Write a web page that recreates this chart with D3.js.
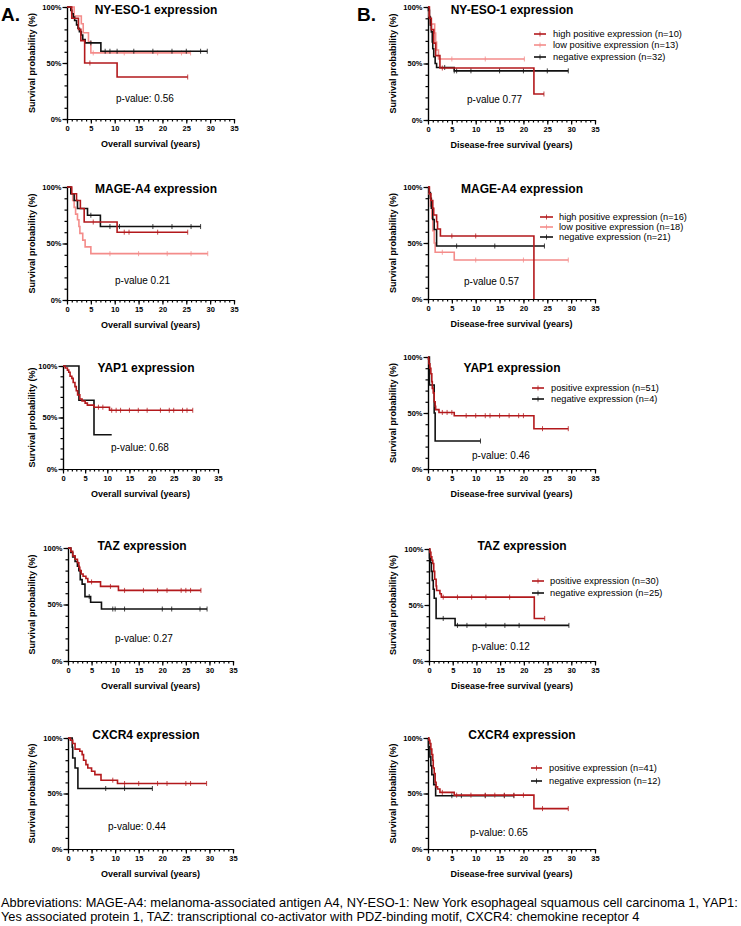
<!DOCTYPE html>
<html><head><meta charset="utf-8">
<script src="https://cdn.jsdelivr.net/npm/d3@7"></script>
<style>body{margin:0;background:#fff}svg{display:block}text{font-family:"Liberation Sans",Arial,sans-serif}</style>
</head><body><svg id="c" width="741" height="926"></svg>
<script>
// ---------- text ----------
const titles = ["NY-ESO-1 expression","MAGE-A4 expression","YAP1 expression","TAZ expression","CXCR4 expression"];
const pvalOS = ["p-value: 0.56","p-value 0.21","p-value: 0.68","p-value: 0.27","p-value: 0.44"];
const pvalDFS = ["p-value 0.77","p-value 0.57","p-value: 0.46","p-value: 0.12","p-value: 0.65"];
const legNy = ["high positive expression (n=10)","low positive expression (n=13)","negative expression (n=32)"];
const legMa = ["high positive expression (n=16)","low positive expression (n=18)","negative expression (n=21)"];
const legYap = ["positive expression (n=51)","negative expression (n=4)"];
const legTaz = ["positive expression (n=30)","negative expression (n=25)"];
const legCx = ["positive expression (n=41)","negative expression (n=12)"];
const xTicks = [0,5,10,15,20,25,30,35];
const yTicks = [0,50,100];
const yTickLabels = ["0%","50%","100%"];
const yTitle = "Survival probability (%)";
const xTitleOS = "Overall survival (years)";
const xTitleDFS = "Disease-free survival (years)";
const footnote = ["Abbreviations: MAGE-A4: melanoma-associated antigen A4, NY-ESO-1: New York esophageal squamous cell carcinoma 1, YAP1:",
  "Yes associated protein 1, TAZ: transcriptional co-activator with PDZ-binding motif, CXCR4: chemokine receptor 4"];

// ---------- Kaplan-Meier steps [time, survival %] and censor times ----------
// Overall survival
const osNyHigh = [[0,100],[1,90],[2.4,80],[2.9,70],[3.7,50],[10.5,37.5],[25.3,37.5]];
const osNyHighC = [4.8,25.3];
const osNyLow = [[0,100],[1.5,92],[3,85],[3.4,77],[4.5,69],[5,59],[25.9,59]];
const osNyLowC = [5.5,12,19,24,25.9];
const osNyNeg = [[0,100],[0.8,97],[1,94],[1.3,91],[1.6,88],[2,84],[2.3,81],[2.6,78],[3,75],[3.3,71],[3.8,68],[7.1,60.5],[29.4,60.5]];
const osNyNegC = [5,8,9,10.5,14,18,22,25,28,29.4];

const osMaHigh = [[0,100],[1,94],[2,88],[2.8,81],[3.6,69],[10.5,60],[25.3,60]];
const osMaHighC = [5.5,12,13,19,25.3];
const osMaLow = [[0,100],[0.8,94],[1.2,88],[1.5,82],[1.8,76],[2.2,71],[2.5,65],[2.7,59],[3.3,53],[3.8,47],[5,41],[29.5,41]];
const osMaLowC = [9,15,21,26,29.5];
const osMaNeg = [[0,100],[0.8,94],[1.5,88],[2.2,81],[4.3,75],[7,65],[28,65]];
const osMaNegC = [5,9,11,18,22,26,28];

const osYapPos = [[0,100],[0.5,98],[1,96],[1.3,94],[1.6,90],[2,88],[2.3,84],[2.7,80],[3,76],[3.3,72],[3.8,68],[4.3,66],[5,64],[5.5,62],[7,60],[10.5,57],[29.3,57]];
const osYapPosC = [8,9,11,12,13,15,17,19,22,24,25,27,28,29.3];
const osYapNeg = [[0,100],[3.6,66.7],[7,33.3],[11,33.3]];
const osYapNegC = [];

const osTazPos = [[0,100],[0.6,97],[1,93],[1.5,90],[2,87],[2.3,83],[2.5,80],[2.8,77],[3.2,75],[3.8,73],[4.2,70],[6.9,66],[10.7,62.5],[28.2,62.5]];
const osTazPosC = [5,9,12,16,19,21,24,25,26,28.2];
const osTazNeg = [[0,100],[0.6,96],[1,92],[1.5,88],[2,84],[2.3,80],[2.6,72],[3,68],[3.6,57],[4.8,52],[7.1,46],[29.5,46]];
const osTazNegC = [4.5,9.5,10,12,20,22,28,29.5];

const osCxPos = [[0,100],[0.5,98],[1,95],[1.5,90],[2.5,88],[3,85],[3.3,80],[3.8,76],[4.2,73],[5,70],[5.7,67],[7,62],[10.5,59],[29.4,59]];
const osCxPosC = [9.5,12,15,19,21,25,26,29.4];
const osCxNeg = [[0,100],[0.9,91.7],[1,82],[1.5,73],[2.1,54.5],[17.9,54.5]];
const osCxNegC = [8,12,17.9];

// Disease-free survival
const dfsNyHigh = [[0,100],[0.3,90],[0.7,80],[1.2,68],[1.6,57],[2.5,46],[22.2,23],[24.3,23]];
const dfsNyHighC = [3,24.3];
const dfsNyLow = [[0,100],[0.2,92],[0.4,85],[1.4,77],[1.6,69],[1.8,62],[2.2,54],[20.2,54]];
const dfsNyLowC = [5,12,20.2];
const dfsNyNeg = [[0,100],[0.1,97],[0.3,91],[0.5,84],[0.7,78],[0.9,69],[1,63],[1.2,56],[1.5,50],[1.8,46.5],[5.5,43.5],[29.4,43.5]];
const dfsNyNegC = [3.5,5.5,6,9,15,20,25,29.4];

const dfsMaHigh = [[0,100],[0.3,94],[0.6,88],[1,81],[1.2,75],[1.8,69],[2,62.5],[2.6,56.3],[22.2,0]];
const dfsMaHighC = [5,10];
const dfsMaLow = [[0,100],[0.2,94],[0.5,83],[0.8,72],[1,61],[1.3,50],[1.5,41.7],[5.5,34.8],[29.4,34.8]];
const dfsMaLowC = [3,10,20,29.4];
const dfsMaNeg = [[0,100],[0.2,95],[0.5,90],[0.7,81],[1,71],[1.3,62],[1.8,47.3],[24.4,47.3]];
const dfsMaNegC = [6,14,24.4];

const dfsYapPos = [[0,100],[0.1,98],[0.2,94],[0.4,90],[0.6,85],[0.8,78],[0.9,72],[1.1,68],[1.3,60],[1.5,56],[1.6,53],[2.3,50.5],[5.5,47.6],[22.2,36],[29.4,36]];
const dfsYapPosC = [3,4,5,8,10,12,13,15,17,19,20,24,29.4];
const dfsYapNeg = [[0,100],[0.3,75],[1.3,50],[1.5,25],[11,25]];
const dfsYapNegC = [11];

const dfsTazPos = [[0,100],[0.2,97],[0.4,93],[0.6,90],[0.8,87],[1,80],[1.2,73],[1.5,67],[1.6,63],[2.3,60],[2.6,57],[22.2,38],[24.4,38]];
const dfsTazPosC = [3,6,9,12,17,24.4];
const dfsTazNeg = [[0,100],[0.1,92],[0.3,88],[0.5,80],[0.7,72],[0.9,64],[1.1,56],[1.5,38],[5.5,31.8],[29.5,31.8]];
const dfsTazNegC = [3,6,8,12,16,19,29.5];

const dfsCxPos = [[0,100],[0.2,98],[0.4,95],[0.6,90],[0.8,85],[1,80],[1.1,73],[1.3,68],[1.5,60],[1.7,56],[2,54],[2.5,51],[5.5,48.5],[22.2,36.4],[29.4,36.4]];
const dfsCxPosC = [3,6,9,12,14,16,18,20,24,29.4];
const dfsCxNeg = [[0,100],[0.1,92],[0.4,83],[0.6,75],[0.8,67],[1.2,58],[1.6,48],[18,48]];
const dfsCxNegC = [5,7,12,16,18];

// ---------- styling ----------
const RED = "#b3191c", PINK = "#f48c8a", BLACK = "#111111";
const svg = d3.select("#c");
svg.append("rect").attr("width",741).attr("height",926).attr("fill","#fff");

const panels = [
 {x0:67,x1:234,yT:7,yB:119,ylx:32,ti:0,tx:156,ty:10,p:pvalOS[0],px:116,py:98,xt:xTitleOS,
  curves:[[osNyLow,osNyLowC,PINK],[osNyNeg,osNyNegC,BLACK],[osNyHigh,osNyHighC,RED]]},
 {x0:67,x1:234,yT:187,yB:300,ylx:32,ti:1,tx:156,ty:189,p:pvalOS[1],px:115,py:280,xt:xTitleOS,
  curves:[[osMaLow,osMaLowC,PINK],[osMaNeg,osMaNegC,BLACK],[osMaHigh,osMaHighC,RED]]},
 {x0:63,x1:218,yT:366,yB:469,ylx:32,ti:2,tx:146,ty:368,p:pvalOS[2],px:111,py:447,xt:xTitleOS,
  curves:[[osYapNeg,osYapNegC,BLACK],[osYapPos,osYapPosC,RED]]},
 {x0:68,x1:233,yT:548,yB:661,ylx:32,ti:3,tx:142,ty:546,p:pvalOS[3],px:115,py:638,xt:xTitleOS,
  curves:[[osTazNeg,osTazNegC,BLACK],[osTazPos,osTazPosC,RED]]},
 {x0:68,x1:233,yT:738,yB:849,ylx:32,ti:4,tx:146,ty:735,p:pvalOS[4],px:108,py:826,xt:xTitleOS,
  curves:[[osCxNeg,osCxNegC,BLACK],[osCxPos,osCxPosC,RED]]},
 {x0:428,x1:595,yT:7,yB:120,ylx:393,ti:0,tx:512,ty:10,p:pvalDFS[0],px:467,py:99,xt:xTitleDFS,
  curves:[[dfsNyLow,dfsNyLowC,PINK],[dfsNyNeg,dfsNyNegC,BLACK],[dfsNyHigh,dfsNyHighC,RED]],
  leg:{items:legNy,cols:[RED,PINK,BLACK],l0:534,l1:546,tx:553,rows:[34,45,57],w:129}},
 {x0:428,x1:595,yT:187,yB:299,ylx:393,ti:1,tx:522,ty:189,p:pvalDFS[1],px:464,py:281,xt:xTitleDFS,
  curves:[[dfsMaLow,dfsMaLowC,PINK],[dfsMaNeg,dfsMaNegC,BLACK],[dfsMaHigh,dfsMaHighC,RED]],
  leg:{items:legMa,cols:[RED,PINK,BLACK],l0:540,l1:553,tx:559,rows:[217,227,237],w:128}},
 {x0:428,x1:595,yT:357,yB:469,ylx:393,ti:2,tx:512,ty:368,p:pvalDFS[2],px:472,py:455,xt:xTitleDFS,
  curves:[[dfsYapNeg,dfsYapNegC,BLACK],[dfsYapPos,dfsYapPosC,RED]],
  leg:{items:legYap,cols:[RED,BLACK],l0:532,l1:544,tx:551,rows:[388,399],w:108}},
 {x0:429,x1:595,yT:549,yB:661,ylx:393,ti:3,tx:522,ty:546,p:pvalDFS[3],px:472,py:646,xt:xTitleDFS,
  curves:[[dfsTazNeg,dfsTazNegC,BLACK],[dfsTazPos,dfsTazPosC,RED]],
  leg:{items:legTaz,cols:[RED,BLACK],l0:532,l1:544,tx:550,rows:[581,593],w:109}},
 {x0:428,x1:595,yT:738,yB:849,ylx:393,ti:4,tx:522,ty:735,p:pvalDFS[4],px:470,py:832,xt:xTitleDFS,
  curves:[[dfsCxNeg,dfsCxNegC,BLACK],[dfsCxPos,dfsCxPosC,RED]],
  leg:{items:legCx,cols:[RED,BLACK],l0:531,l1:542,tx:549,rows:[768,781],w:108}}
];

function survAt(steps,t){let s=100;for(const d of steps){if(d[0]<=t)s=d[1];}return s;}

panels.forEach(P=>{
  const x=d3.scaleLinear().domain([0,35]).range([P.x0,P.x1]);
  const y=d3.scaleLinear().domain([0,100]).range([P.yB,P.yT]);
  const g=svg.append("g");
  const yMin=g.append("g").attr("transform",`translate(${P.x0},0)`)
    .call(d3.axisLeft(y).tickValues(d3.range(0,101,10)).tickSize(2.5).tickFormat("").tickSizeOuter(0));
  const xMin=g.append("g").attr("transform",`translate(0,${P.yB})`)
    .call(d3.axisBottom(x).tickValues(d3.range(0,36,1)).tickSize(2.5).tickFormat("").tickSizeOuter(0));
  const yAx=g.append("g").attr("transform",`translate(${P.x0},0)`)
    .call(d3.axisLeft(y).tickValues(yTicks).tickSize(4.5).tickSizeOuter(0).tickFormat((d,i)=>yTickLabels[i]));
  const xAx=g.append("g").attr("transform",`translate(0,${P.yB})`)
    .call(d3.axisBottom(x).tickValues(xTicks).tickSize(4.5).tickSizeOuter(0));
  [yMin,xMin,yAx,xAx].forEach(a=>{
    a.selectAll("path,line").attr("stroke","#000").attr("stroke-width",1.2);
    a.selectAll("text").attr("font-family","Liberation Sans, Arial").attr("font-weight","bold")
     .attr("font-size",7.5).attr("fill","#000");
  });
  yAx.selectAll("text").attr("x",-5.5);
  xAx.selectAll("text").attr("y",7);
  g.append("text").attr("transform",`translate(${P.ylx},${(P.yT+P.yB)/2}) rotate(-90)`)
    .attr("text-anchor","middle").attr("dominant-baseline","central")
    .attr("font-weight","bold").attr("font-size",9).text(yTitle);
  g.append("text").attr("x",(P.x0+P.x1)/2).attr("y",P.yB+28)
    .attr("text-anchor","middle").attr("font-weight","bold").attr("font-size",9).text(P.xt);
  g.append("text").attr("x",P.tx).attr("y",P.ty).attr("text-anchor","middle").attr("dominant-baseline","central")
    .attr("font-weight","bold").attr("font-size",12).text(titles[P.ti]);
  g.append("text").attr("x",P.px).attr("y",P.py).attr("dominant-baseline","central")
    .attr("font-size",10).text(P.p);
  const line=d3.line().x(d=>x(d[0])).y(d=>y(d[1])).curve(d3.curveStepAfter);
  P.curves.forEach(([steps,cens,col])=>{
    g.append("path").attr("d",line(steps)).attr("fill","none").attr("stroke",col).attr("stroke-width",1.6);
    g.selectAll(null).data(cens).enter().append("line")
      .attr("x1",t=>x(t)).attr("x2",t=>x(t))
      .attr("y1",t=>y(survAt(steps,t))-2.5).attr("y2",t=>y(survAt(steps,t))+2.5)
      .attr("stroke",col).attr("stroke-width",0.8);
  });
  if(P.leg){
    const L=P.leg;
    const texts=[];
    L.items.forEach((it,i)=>{
      const yy=L.rows[i];
      g.append("line").attr("x1",L.l0).attr("x2",L.l1).attr("y1",yy).attr("y2",yy)
        .attr("stroke",L.cols[i]).attr("stroke-width",1.6);
      g.append("line").attr("x1",(L.l0+L.l1)/2).attr("x2",(L.l0+L.l1)/2).attr("y1",yy-2.5).attr("y2",yy+2.5)
        .attr("stroke",L.cols[i]).attr("stroke-width",0.8);
      texts.push(g.append("text").attr("x",L.tx).attr("y",yy).attr("dominant-baseline","central")
        .attr("font-size",9).text(it));
    });
    const mw=texts[0].node().getComputedTextLength();
    const fs=9*L.w/mw;
    texts.forEach(t=>t.attr("font-size",fs));
  }
});

svg.append("text").attr("x",1).attr("y",21).attr("font-weight","bold").attr("font-size",19).text("A.");
svg.append("text").attr("x",357).attr("y",21).attr("font-weight","bold").attr("font-size",19).text("B.");

const f1=svg.append("text").attr("x",1).attr("y",907).attr("font-size",11).text(footnote[0]);
const f2=svg.append("text").attr("x",1).attr("y",921).attr("font-size",11).text(footnote[1]);
const w=f1.node().getComputedTextLength();
const fs=11*737/w;
f1.attr("font-size",fs); f2.attr("font-size",fs);
</script></body></html>
